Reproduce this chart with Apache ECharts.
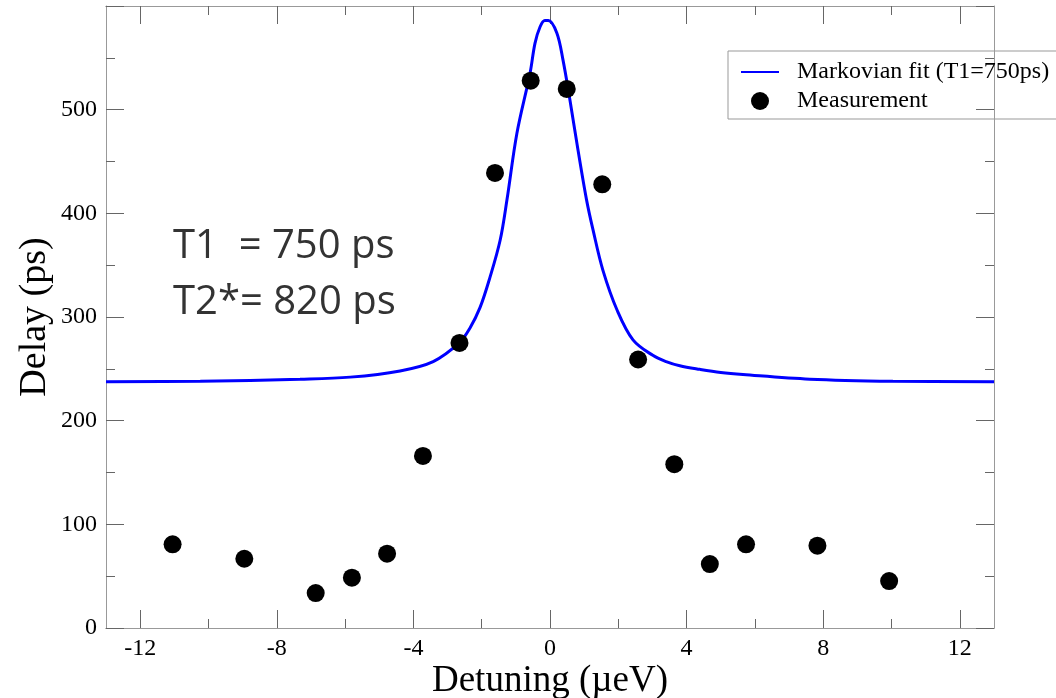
<!DOCTYPE html>
<html>
<head>
<meta charset="utf-8">
<script src="https://cdn.jsdelivr.net/npm/echarts@6/dist/echarts.min.js"></script>
<style>html,body{margin:0;padding:0;background:#fff;}</style>
</head>
<body>
<div id="main" style="width:1056px;height:698px;"></div>
<script type="text/javascript">
// measurement points
var measX = [-11.05, -8.95, -6.86, -5.80, -4.77, -3.72, -2.65, -1.61, -0.565, 0.49, 1.53, 2.58, 3.64, 4.68, 5.74, 7.83, 9.93];
var measY = [80.7, 66.8, 33.7, 48.5, 71.7, 166, 275, 439, 528, 520, 428, 259, 158, 61.7, 80.7, 79.4, 45.3];

// fit curve
var fitX = [-13.0, -10.24, -7.32, -5.85, -4.39, -3.42, -2.66, -2.35, -2.05, -1.76, -1.46, -1.26, -0.97, -0.585, -0.44, -0.29, -0.15, -0.05, 0.2, 0.38, 0.585, 0.82, 1.07, 1.26, 1.55, 1.96, 2.43, 3.01, 3.40, 3.80, 4.39, 5.0, 5.65, 7.61, 10.04, 13.0];
var fitY = [237.5, 238, 240, 242, 248, 257, 275, 289, 309, 338, 374, 413, 477, 535, 564, 580, 586, 586, 574, 548, 509, 461, 413, 384, 345, 307, 278, 263, 257, 253, 249.5, 246.5, 244.5, 240, 238, 237.5];

var majorX = [-12, -8, -4, 0, 4, 8, 12];
var minorX = [-10, -6, -2, 2, 6, 10];

function pairs(xs, ys) {
    var res = [];
    for (var i = 0; i < xs.length; i++) res.push([xs[i], ys[i]]);
    return res;
}

var serif = 'Liberation Serif';
var tickCol = '#666';
var frameCol = '#999';

function xAx(pos, ticks, len, showLabel) {
    return {
        type: 'value', position: pos, min: -13, max: 13,
        axisLine: { show: true, onZero: false, lineStyle: { color: frameCol, width: 1 } },
        axisTick: { show: true, inside: true, length: len, customValues: ticks, lineStyle: { color: tickCol } },
        axisLabel: { show: showLabel, customValues: ticks, margin: 9, color: '#000', fontFamily: serif, fontSize: 24 },
        splitLine: { show: false }
    };
}
function yAx(pos, showLabel) {
    return {
        type: 'value', position: pos, min: 0, max: 600, interval: 100,
        axisLine: { show: true, onZero: false, lineStyle: { color: frameCol, width: 1 } },
        axisTick: { show: true, inside: true, length: 18, lineStyle: { color: tickCol } },
        minorTick: { show: true, splitNumber: 2, length: 9, lineStyle: { color: tickCol } },
        axisLabel: { show: showLabel, showMaxLabel: false, margin: 9, color: '#000', fontFamily: serif, fontSize: 24 },
        splitLine: { show: false }
    };
}

var myChart = echarts.init(document.getElementById('main'));

var bottomMajor = xAx('bottom', majorX, 18, true);
bottomMajor.name = 'Detuning (\u00b5eV)';
bottomMajor.nameLocation = 'middle';
bottomMajor.nameGap = 35;
bottomMajor.nameMoveOverlap = false;
bottomMajor.nameTextStyle = { fontFamily: serif, fontSize: 37, color: '#000' };

var leftY = yAx('left', true);
leftY.name = 'Delay (ps)';
leftY.nameLocation = 'middle';
leftY.nameGap = 52;
leftY.nameMoveOverlap = false;
leftY.nameTextStyle = { fontFamily: serif, fontSize: 38, color: '#000' };

var option = {
    backgroundColor: '#fff',
    animation: false,
    grid: { left: 106, right: 62, top: 6, bottom: 70, outerBoundsMode: 'none', containLabel: false },
    xAxis: [
        bottomMajor,
        xAx('bottom', minorX, 9, false),
        xAx('top', majorX, 18, false),
        xAx('top', minorX, 9, false)
    ],
    yAxis: [leftY, yAx('right', false)],
    legend: {
        orient: 'vertical',
        left: 728, top: 51,
        padding: [9, 80, 6, 12],
        itemWidth: 38, itemHeight: 18, itemGap: 5,
        borderColor: '#999', borderWidth: 1,
        textStyle: { fontFamily: serif, fontSize: 24, color: '#000', padding: [0, 0, 0, 13] },
        data: [
            { name: 'Markovian fit (T1=750ps)', itemStyle: { opacity: 0 } },
            'Measurement'
        ]
    },
    graphic: [
        { type: 'text', left: 173, top: 227, style: { text: 'T1  = 750 ps', fontFamily: 'Open Sans', fontSize: 40, fill: '#333' } },
        { type: 'text', left: 173, top: 283, style: { text: 'T2*= 820 ps', fontFamily: 'Open Sans', fontSize: 40, fill: '#333' } }
    ],
    series: [
        {
            name: 'Markovian fit (T1=750ps)',
            type: 'line',
            data: pairs(fitX, fitY),
            smooth: 0.35,
            symbol: 'none',
            lineStyle: { color: '#0000ff', width: 3 },
            itemStyle: { color: '#0000ff' },
            z: 2
        },
        {
            name: 'Measurement',
            type: 'scatter',
            data: pairs(measX, measY),
            symbol: 'circle',
            symbolSize: 18,
            itemStyle: { color: '#000', opacity: 1 },
            z: 3
        }
    ]
};

myChart.setOption(option);
</script>
</body>
</html>
